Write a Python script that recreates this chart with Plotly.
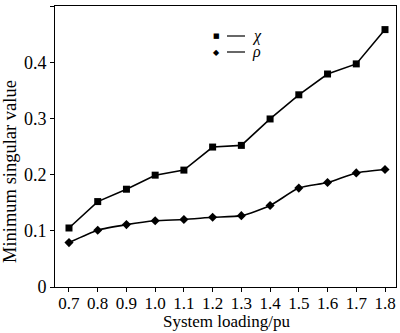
import plotly.graph_objects as go

loading = [0.7, 0.8, 0.9, 1.0, 1.1, 1.2, 1.3, 1.4, 1.5, 1.6, 1.7, 1.8]
chi = [0.105, 0.152, 0.174, 0.199, 0.208, 0.249, 0.252, 0.299, 0.342, 0.379, 0.397, 0.458]
rho = [0.079, 0.101, 0.111, 0.118, 0.120, 0.124, 0.127, 0.145, 0.176, 0.186, 0.203, 0.209]
x_ticks = [0.7, 0.8, 0.9, 1.0, 1.1, 1.2, 1.3, 1.4, 1.5, 1.6, 1.7, 1.8]
x_tick_labels = ["0.7", "0.8", "0.9", "1.0", "1.1", "1.2", "1.3", "1.4", "1.5", "1.6", "1.7", "1.8"]
y_ticks = [0, 0.1, 0.2, 0.3, 0.4, 0.5]
y_tick_labels = ["0", "0.1", "0.2", "0.3", "0.4", "0.5"]
x_title = "System loading/pu"
y_title = "Minimum singular value"

FONT = "Liberation Serif, Times New Roman, Times, serif"

fig = go.Figure()
fig.add_trace(go.Scatter(x=loading, y=chi, mode="lines+markers", name="χ",
                         line=dict(color="black", width=1.6),
                         marker=dict(symbol="square", size=7, color="black")))
fig.add_trace(go.Scatter(x=loading, y=rho, mode="lines+markers", name="ρ",
                         line=dict(color="black", width=1.6, shape="spline", smoothing=0.6),
                         marker=dict(symbol="diamond", size=7, color="black")))

# custom legend
legend_items = [("square", "χ", 36), ("diamond", "ρ", 52)]
for sym, lab, ypx in legend_items:
    yp = (287 - ypx) / (287 - 6)
    x0 = (216 - 55) / (396 - 55)
    fig.add_annotation(x=x0, y=yp, xref="paper", yref="paper",
                       text="■" if sym == "square" else "◆", showarrow=False,
                       font=dict(family="DejaVu Sans", size=7 if sym == "square" else 8, color="black"),
                       xanchor="center", yanchor="middle")
    fig.add_shape(type="line", xref="paper", yref="paper",
                  x0=(227 - 55) / 341, x1=(245 - 55) / 341, y0=yp, y1=yp,
                  line=dict(color="black", width=1.2))
    fig.add_annotation(x=(250 - 55) / 341, y=yp, xref="paper", yref="paper",
                       text="<i>" + lab + "</i>", showarrow=False,
                       font=dict(family=FONT, size=16, color="black"),
                       xanchor="left", yanchor="middle")

# axis titles
fig.add_annotation(x=(227 - 55) / 341, y=(287 - 321) / 281, xref="paper", yref="paper",
                   text=x_title, showarrow=False, font=dict(family=FONT, size=17, color="black"),
                   xanchor="center", yanchor="middle")
fig.add_annotation(x=(10 - 55) / 341, y=(287 - 172) / 281, xref="paper", yref="paper",
                   text=y_title, showarrow=False, textangle=-90,
                   font=dict(family=FONT, size=18.5, color="black"),
                   xanchor="center", yanchor="middle")

fig.update_layout(
    width=400, height=333,
    margin=dict(l=55, r=4, t=6, b=46),
    plot_bgcolor="white", paper_bgcolor="white",
    showlegend=False,
    font=dict(family=FONT, size=14, color="black"),
    xaxis=dict(range=[0.6513, 1.8383], tickvals=x_ticks, ticktext=x_tick_labels,
               showgrid=False, zeroline=False, showline=True, linecolor="black", linewidth=1,
               mirror=True, ticks="outside", ticklen=4, tickcolor="black",
               ticklabelstandoff=-3,
               tickfont=dict(family=FONT, size=17)),
    yaxis=dict(range=[0, 0.5], tickvals=y_ticks, ticktext=y_tick_labels,
               showgrid=False, zeroline=False, showline=True, linecolor="black", linewidth=1,
               mirror=True, ticks="outside", ticklen=4, tickcolor="black",
               tickfont=dict(family=FONT, size=18)),
)

fig.write_html("out.html", config={"displayModeBar": False},
               post_script="document.body.style.margin='0px';")
